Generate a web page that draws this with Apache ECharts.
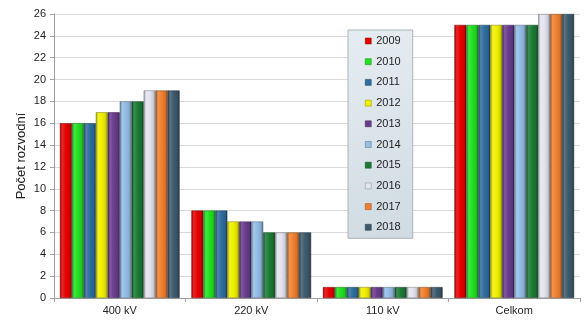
<!DOCTYPE html>
<html><head><meta charset="utf-8">
<script src="https://cdn.jsdelivr.net/npm/echarts@6/dist/echarts.min.js"></script>
<style>html,body{margin:0;padding:0;background:#fff}#c{width:585px;height:331px}</style>
</head><body><div id="c"></div>
<script>
const categories = ['400 kV', '220 kV', '110 kV', 'Celkom'];
const years = ['2009','2010','2011','2012','2013','2014','2015','2016','2017','2018'];
const s2009 = [16, 8, 1, 25];
const s2010 = [16, 8, 1, 25];
const s2011 = [16, 8, 1, 25];
const s2012 = [17, 7, 1, 25];
const s2013 = [17, 7, 1, 25];
const s2014 = [18, 7, 1, 25];
const s2015 = [18, 6, 1, 25];
const s2016 = [19, 6, 1, 26];
const s2017 = [19, 6, 1, 26];
const s2018 = [19, 6, 1, 26];
const seriesValues = [s2009,s2010,s2011,s2012,s2013,s2014,s2015,s2016,s2017,s2018];
const colors = ['#e60000','#22e022','#2f6e9e','#f0f000','#6b3c8e','#94bde6','#1b7a35','#e4e4f0','#f08030','#3e5a6e'];
const yTicks = {min:0, max:26, interval:2};

function shade(hex, f){
  const n = parseInt(hex.slice(1),16);
  let r=(n>>16)&255,g=(n>>8)&255,b=n&255;
  if(f<0){r=r*(1+f);g=g*(1+f);b=b*(1+f);}else{r=r+(255-r)*f;g=g+(255-g)*f;b=b+(255-b)*f;}
  return 'rgb('+Math.round(r)+','+Math.round(g)+','+Math.round(b)+')';
}
function grad(c){
  return {type:'linear',x:0,y:0,x2:1,y2:0,colorStops:[
    {offset:0,color:shade(c,-0.35)},{offset:0.2,color:shade(c,0.15)},
    {offset:0.5,color:c},{offset:0.8,color:shade(c,-0.1)},{offset:1,color:shade(c,-0.45)}]};
}
const FONT = 'Liberation Sans, Arial, sans-serif';
const chart = echarts.init(document.getElementById('c'), null, {renderer:'canvas'});
chart.setOption({
  animation:false,
  textStyle:{fontFamily:FONT},
  grid:{left:54,right:5,top:14,bottom:33},
  legend:{
    orient:'vertical', left:348, top:30,
    itemWidth:6, itemHeight:6, itemGap:6.7,
    icon:'rect',
    padding:[4,12,4,17],
    textStyle:{fontFamily:FONT,fontSize:11,color:'#222',lineHeight:14},
    backgroundColor:{type:'linear',x:0,y:0,x2:1,y2:1,colorStops:[{offset:0,color:'#e6edf1'},{offset:1,color:'#cfdbe2'}]},
    borderColor:'#a9b4ba', borderWidth:1,
    data: years.map((y,i)=>({name:y, itemStyle:{color:colors[i], borderColor:shade(colors[i],-0.4), borderWidth:0.5}}))
  },
  xAxis:{
    type:'category', data:categories,
    axisLine:{lineStyle:{color:'#a0a0a0'}},
    axisTick:{show:true,length:4,lineStyle:{color:'#a0a0a0'}},
    axisLabel:{color:'#222',fontSize:11,margin:7,fontFamily:FONT}
  },
  yAxis:{
    type:'value', min:yTicks.min, max:yTicks.max, interval:yTicks.interval,
    name:'Počet rozvodní', nameLocation:'middle', nameRotate:90, nameGap:26, nameMoveOverlap:false,
    nameTextStyle:{fontSize:13,color:'#222',fontFamily:FONT},
    axisLine:{show:true,lineStyle:{color:'#a0a0a0'}},
    axisTick:{show:true,length:4,lineStyle:{color:'#a0a0a0'}},
    axisLabel:{color:'#222',fontSize:11,margin:8,fontFamily:FONT},
    splitLine:{lineStyle:{color:'#d9d9d9'}}
  },
  series: years.map((y,i)=>({
    name:y, type:'bar', data:seriesValues[i],
    barGap:'0%', barCategoryGap:'9%',
    itemStyle:{color:grad(colors[i]), borderColor:shade(colors[i],-0.5), borderWidth:0.5}
  }))
});
</script></body></html>
